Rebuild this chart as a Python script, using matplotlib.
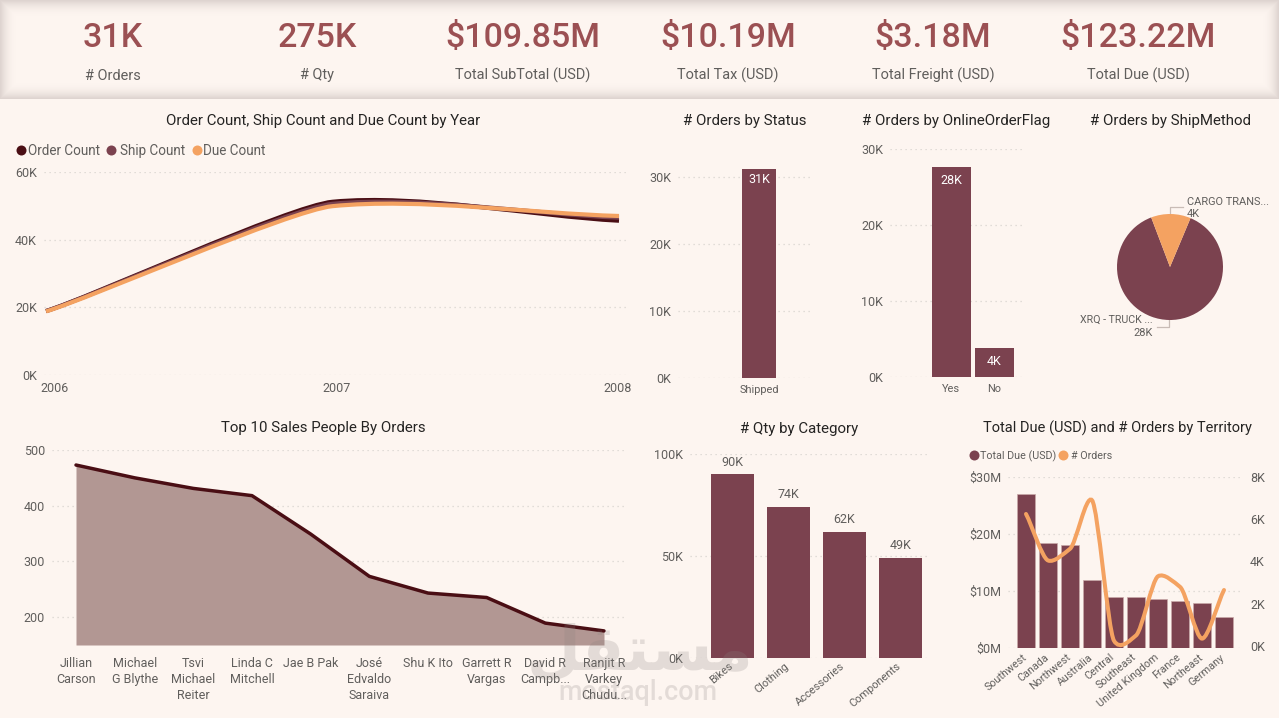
import numpy as np
import matplotlib
matplotlib.use('Agg')
import matplotlib.pyplot as plt
from matplotlib.path import Path
from matplotlib.patches import PathPatch
from matplotlib.transforms import ScaledTranslation

W, H = 1279, 718
BG = '#FDF5F0'
MAROON = '#7B424F'
DARK = '#4A0E14'
ORANGE = '#F4A261'
KPI = '#9B5053'
TXT = '#605E5C'
TITLE = '#252423'
GRID = '#D9D4D0'

plt.rcParams['font.family'] = ['Roboto', 'DejaVu Sans']

# ---------- data ----------
kpi_values = ['31K', '275K', '$109.85M', '$10.19M', '$3.18M', '$123.22M']
kpi_labels = ['# Orders', '# Qty', 'Total SubTotal (USD)', 'Total Tax (USD)', 'Total Freight (USD)', 'Total Due (USD)']

years = [2006, 2007, 2008]
order_count = [18.9, 51.2, 45.6]
ship_count = [18.9, 50.6, 46.5]
due_count = [18.8, 49.9, 47.0]

status_cats = ['Shipped']
status_vals = [31.2]
flag_cats = ['Yes', 'No']
flag_vals = [27.6, 3.8]
flag_labels = ['28K', '4K']
ship_vals = [27.6, 3.8]

people = ['Jillian\nCarson', 'Michael\nG Blythe', 'Tsvi\nMichael\nReiter', 'Linda C\nMitchell', 'Jae B Pak',
          'José\nEdvaldo\nSaraiva', 'Shu K Ito', 'Garrett R\nVargas', 'David R\nCampb...', 'Ranjit R\nVarkey\nChudu...']
people_orders = [473, 450, 431, 418, 349, 273, 243, 235, 189, 175]

qty_cats = ['Bikes', 'Clothing', 'Accessories', 'Components']
qty_vals = [90, 74, 62, 49]

territories = ['Southwest', 'Canada', 'Northwest', 'Australia', 'Central', 'Southeast',
               'United Kingdom', 'France', 'Northeast', 'Germany']
terr_due = [27.1, 18.4, 18.1, 11.9, 9.0, 9.0, 8.6, 8.2, 7.9, 5.5]
terr_orders = [6.25, 4.05, 4.6, 6.9, 0.25, 0.5, 3.3, 2.8, 0.35, 2.65]

# ---------- helpers ----------
fig = plt.figure(figsize=(W / 100, H / 100), dpi=100, facecolor=BG)
PT = 0.72


def make_ax(l, t, r, b):
    ax = fig.add_axes([l / W, 1 - b / H, (r - l) / W, (b - t) / H])
    ax.set_facecolor('none')
    for s in ax.spines.values():
        s.set_visible(False)
    return ax


def ptext(x, y, s, size, color=TXT, ha='center', va='center', **kw):
    return fig.text(x / W, 1 - (y + 1) / H, s, fontsize=size * PT, color=color, ha=ha, va=va, **kw)


def style(ax, size=12.5, pad=7):
    ax.tick_params(axis='both', length=0, labelsize=size * PT, labelcolor=TXT, pad=pad * PT)
    ax.grid(axis='y', color=GRID, lw=0.9, ls=(0, (1, 3)))
    ax.set_axisbelow(True)


def shift_labels(ax, offs):
    for lab, off in zip(ax.get_xticklabels(), offs):
        lab.set_transform(lab.get_transform() + ScaledTranslation(off / 100, 0, fig.dpi_scale_trans))


def smooth_path(x, y, k, end=1.0, f=None):
    x = np.asarray(x, float)
    y = np.asarray(y, float)
    n = len(x)
    f = [1 / 3] * (n - 1) if f is None else f
    m = np.zeros(n)
    m[1:-1] = k * (y[2:] - y[:-2]) / (x[2:] - x[:-2])
    m[0] = end * (y[1] - y[0]) / (x[1] - x[0])
    m[-1] = end * (y[-1] - y[-2]) / (x[-1] - x[-2])
    v = [(x[0], y[0])]
    c = [Path.MOVETO]
    for i in range(n - 1):
        h = (x[i + 1] - x[i]) * f[i]
        v += [(x[i] + h, y[i] + m[i] * h), (x[i + 1] - h, y[i + 1] - m[i + 1] * h), (x[i + 1], y[i + 1])]
        c += [Path.CURVE4] * 3
    return Path(v, c)


# ---------- background + KPI banner ----------
bg = fig.add_axes([0, 0, 1, 1], zorder=-5)
bg.axis('off')
bx = np.arange(W)
by = np.arange(99)
dx = np.minimum(bx, W - 1 - bx)[None, :]
dy = np.minimum(by, 98 - by)[:, None]
d = np.minimum(dx, dy)
a = np.clip(1 - d / 16, 0, 1) ** 2
c0 = np.array([253, 245, 240]) / 255
c1 = np.array([222, 212, 208]) / 255
img = c0[None, None, :] * (1 - a[..., None]) + c1[None, None, :] * a[..., None]
bg.imshow(img, extent=(0, W, 99, 0), aspect='auto', interpolation='bilinear', zorder=0)
bg.set_xlim(0, W)
bg.set_ylim(H, 0)

for cx, v, l in zip([113, 317, 523, 728, 933, 1138], kpi_values, kpi_labels):
    ptext(cx, 37, v, 34, KPI, weight='medium')
    ptext(cx, 74.5, l, 14.5)

# ---------- line chart ----------
ax = make_ax(44, 172, 628, 375)
style(ax)
per_year = (619 - 46) / 2
ax.set_xlim(2006 - 2 / per_year, 2008 + 9 / per_year)
ax.set_ylim(0, 60)
ax.set_yticks([0, 20, 40, 60], ['0K', '20K', '40K', '60K'])
ax.set_xticks(years, [str(y) for y in years])
ax.tick_params(axis='x', pad=5.3)
shift_labels(ax, [9, 4, -1])
for vals, col in [(order_count, DARK), (ship_count, MAROON), (due_count, ORANGE)]:
    ax.add_patch(PathPatch(smooth_path(years, vals, 0.6, 0.8, f=[0.15, 0.3]), fill=False, ec=col, lw=3.0,
                           capstyle='butt', clip_on=False))
ptext(323, 120, 'Order Count, Ship Count and Due Count by Year', 15, TITLE)
for mx, tx, s, col in [(21, 28, 'Order Count', DARK), (111, 120, 'Ship Count', MAROON), (197, 203, 'Due Count', ORANGE)]:
    bg.plot([mx], [150], 'o', ms=10 * PT, color=col, mew=0)
    ptext(tx, 150, s, 13.5, ha='left')

# ---------- status ----------
ax = make_ax(678, 150, 810, 378)
style(ax)
sc = 132
ax.set_xlim(-(759 - 678) / sc, (810 - 759) / sc)
ax.set_ylim(0, 228 / 6.7)
ax.bar([0], status_vals, width=34 / sc, color=MAROON)
ax.set_xticks([0], status_cats)
ax.tick_params(axis='x', labelsize=11 * PT, pad=5)
ax.set_yticks([0, 10, 20, 30], ['0K', '10K', '20K', '30K'])
ax.text(0, status_vals[0] - 1.6, '31K', color='white', ha='center', va='center', fontsize=12.5 * PT)
ptext(745, 120, '# Orders by Status', 15, TITLE)

# ---------- online flag ----------
ax = make_ax(890, 149, 1022, 377)
style(ax)
ax.set_xlim(-(951.5 - 890) / 43, (1022 - 951.5) / 43)
ax.set_ylim(0, 30)
ax.bar(range(2), flag_vals, width=39 / 43, color=MAROON)
ax.set_xticks(range(2), flag_cats)
ax.tick_params(axis='x', labelsize=11 * PT, pad=5)
ax.set_yticks([0, 10, 20, 30], ['0K', '10K', '20K', '30K'])
for i, (v, s) in enumerate(zip(flag_vals, flag_labels)):
    ax.text(i, v - 1.8, s, color='white', ha='center', va='center', fontsize=12.5 * PT)
ptext(956, 120, '# Orders by OnlineOrderFlag', 15, TITLE)

# ---------- pie ----------
ax = make_ax(1117, 214, 1223, 320)
share = ship_vals[1] / sum(ship_vals)
ax.pie(ship_vals, colors=[MAROON, ORANGE], startangle=90 + share * 180 - 1, radius=1)
ax.set_xlim(-1, 1)
ax.set_ylim(-1, 1)
bg.plot([1170, 1170, 1183], [214, 207, 207], color='#C9BCB6', lw=0.9)
bg.plot([1169, 1169, 1157], [320, 327, 327], color='#C9BCB6', lw=0.9)
ptext(1187, 201, 'CARGO TRANS...', 11, ha='left')
ptext(1187, 213, '4K', 11, ha='left')
ptext(1153, 319, 'XRQ - TRUCK ...', 10.6, ha='right')
ptext(1153, 332, '28K', 11, ha='right')
ptext(1170, 120, '# Orders by ShipMethod', 15, TITLE)

# ---------- top 10 area ----------
ax = make_ax(52, 450, 624, 645)
style(ax)
step = (604 - 76) / 9
ax.set_xlim(-(76 - 52) / step, (624 - 76) / step)
ylo = 200 - (645 - 617) / 0.5565
ax.set_ylim(ylo, 500)
xs = np.arange(len(people))
ax.fill_between(xs, people_orders, ylo, color='#B29793', lw=0)
ax.plot(xs, people_orders, color=DARK, lw=2.5, solid_capstyle='round', clip_on=False)
ax.set_yticks([200, 300, 400, 500], ['200', '300', '400', '500'])
ax.set_xticks(xs, people, linespacing=1.28, va='top')
ax.tick_params(axis='x', labelsize=12.5 * PT, pad=12 * PT)
ptext(323, 427, 'Top 10 Sales People By Orders', 15, TITLE)

# ---------- qty ----------
ax = make_ax(690, 454, 930, 658)
style(ax)
ax.set_xlim(-(732.5 - 690) / 56, (930 - 732.5) / 56)
ax.set_ylim(0, 100)
ax.bar(range(4), qty_vals, width=43 / 56, color=MAROON)
ax.set_yticks([0, 50, 100], ['0K', '50K', '100K'])
ax.set_xticks(range(4), qty_cats, rotation=40, ha='right', rotation_mode='anchor')
ax.tick_params(axis='x', labelsize=11 * PT, pad=2)
shift_labels(ax, [-4] * 4)
for i, v in enumerate(qty_vals):
    ax.annotate(f'{v}K', (i, v), xytext=(0, 4), textcoords='offset points', ha='center', va='bottom',
                fontsize=12.5 * PT, color=TXT)
ptext(799, 428, '# Qty by Category', 15, TITLE)

# ---------- territory ----------
ax = make_ax(1008, 477, 1240, 648)
style(ax)
ax.set_xlim(-(1026 - 1008) / 22, (1240 - 1026) / 22)
ax.set_ylim(0, 30)
ax.bar(range(10), terr_due, width=17.5 / 22, color=MAROON, ec='#C9A9A9', lw=0.5)
ax.set_yticks([0, 10, 20, 30], ['$0M', '$10M', '$20M', '$30M'])
ax.set_xticks(range(10), territories, rotation=40, ha='right', rotation_mode='anchor')
ax.tick_params(axis='x', labelsize=10.7 * PT, pad=3)
shift_labels(ax, [-4] * 10)
ax2 = ax.twinx()
ax2.set_facecolor('none')
for s in ax2.spines.values():
    s.set_visible(False)
ax2.set_ylim(-2 / 169 * 8, 8)
ax2.set_yticks([0, 2, 4, 6, 8], ['0K', '2K', '4K', '6K', '8K'])
ax2.tick_params(axis='y', length=0, labelsize=12.5 * PT, labelcolor=TXT, pad=10 * PT)
ax2.add_patch(PathPatch(smooth_path(range(10), terr_orders, 0.55, 0.9, f=[0.28] * 9), fill=False, ec=ORANGE, lw=2.9,
                        capstyle='round'))
ptext(1117, 427, 'Total Due (USD) and # Orders by Territory', 14.6, TITLE)
for mx, tx, s, col in [(974, 980, 'Total Due (USD)', MAROON), (1063, 1071, '# Orders', ORANGE)]:
    bg.plot([mx], [455], 'o', ms=10 * PT, color=col, mew=0)
    ptext(tx, 455, s, 10.8, ha='left')

# ---------- watermark ----------
ptext(640, 652, '\ufede\ufed8\ufe98\ufeb4\ufee3', 62, '#8A8280', alpha=0.22, family='DejaVu Sans', weight='bold')
ptext(638, 691, 'mostaql.com', 27, '#8A8280', alpha=0.22, weight='medium')

fig.savefig('out.png', dpi=100, facecolor=BG)
